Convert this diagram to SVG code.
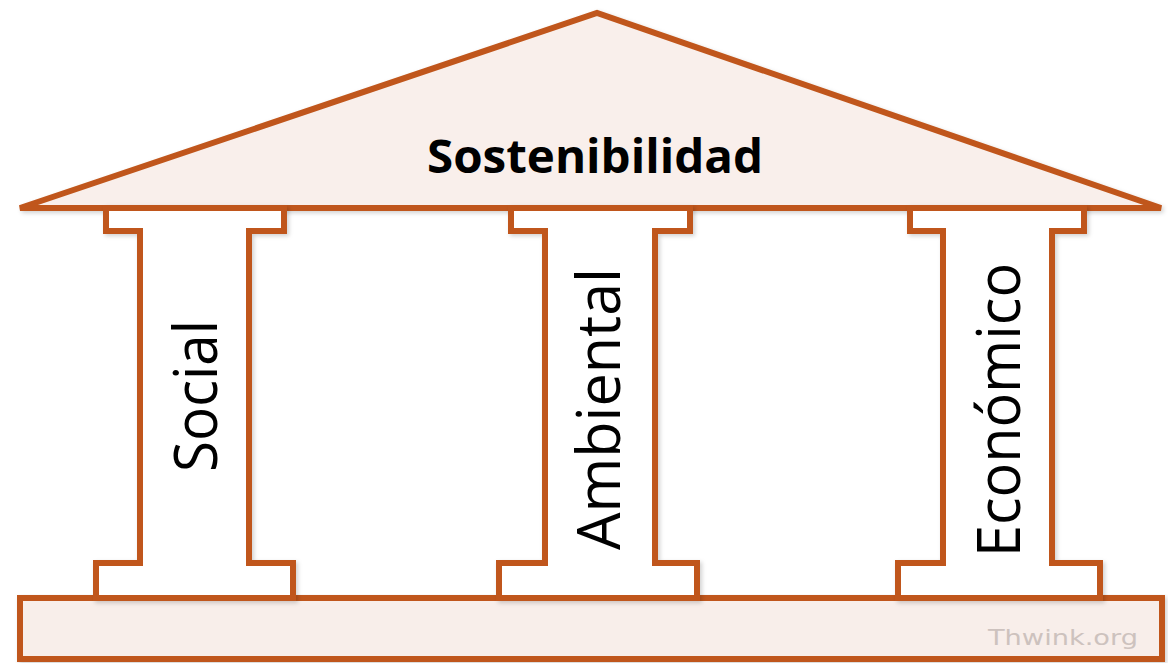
<svg xmlns="http://www.w3.org/2000/svg" width="1168" height="663" viewBox="0 0 1168 663">
<defs>
<style>
.st{stroke:#C0561B;stroke-width:6;stroke-linejoin:miter;}
.roof{fill:#F9EFEB;}
.slab{fill:#F8EEEA;}
.pil{fill:#FFFFFF;}
.lbl{font-family:"Open Sans","Liberation Sans",sans-serif;fill:#000;}
.wm{font-family:"DejaVu Sans","Liberation Sans",sans-serif;fill:#CDC2BE;}
</style>
<filter id="sh" x="-5%" y="-5%" width="110%" height="110%">
<feDropShadow dx="2" dy="2" stdDeviation="2" flood-color="#000" flood-opacity="0.18"/>
</filter>
</defs>
<rect width="1168" height="663" fill="#FFFFFF"/>
<g id="roof">
<polygon class="st roof" filter="url(#sh)" points="20,208 597,13 1161,208"/>
<text class="lbl" x="595" y="173" font-size="46" font-weight="bold" text-anchor="middle" textLength="336" lengthAdjust="spacingAndGlyphs">Sostenibilidad</text>
</g>
<g id="base">
<rect class="st slab" filter="url(#sh)" x="20" y="598" width="1142" height="61"/>
<text class="wm" x="988" y="645" font-size="22" textLength="150" lengthAdjust="spacingAndGlyphs">Thwink.org</text>
</g>
<g id="pillar-social">
<path class="st pil" filter="url(#sh)" d="M106,208 V231 H140 V563 H96 V598 H293 V563 H249 V231 H284 V208 Z"/>
<text class="lbl" transform="translate(217,396) rotate(-90)" font-size="60" text-anchor="middle" textLength="152" lengthAdjust="spacingAndGlyphs">Social</text>
</g>
<g id="pillar-ambiental">
<path class="st pil" filter="url(#sh)" d="M511,208 V231 H545 V563 H499 V598 H697 V563 H655 V231 H690 V208 Z"/>
<text class="lbl" transform="translate(620,409) rotate(-90)" font-size="60" text-anchor="middle" textLength="282" lengthAdjust="spacingAndGlyphs">Ambiental</text>
</g>
<g id="pillar-economico">
<path class="st pil" filter="url(#sh)" d="M910,208 V231 H943 V563 H898 V598 H1100 V563 H1052 V231 H1084 V208 Z"/>
<text class="lbl" transform="translate(1020,410) rotate(-90)" font-size="60" text-anchor="middle" textLength="294" lengthAdjust="spacingAndGlyphs">Económico</text>
</g>
<g id="connectors"/>
</svg>
